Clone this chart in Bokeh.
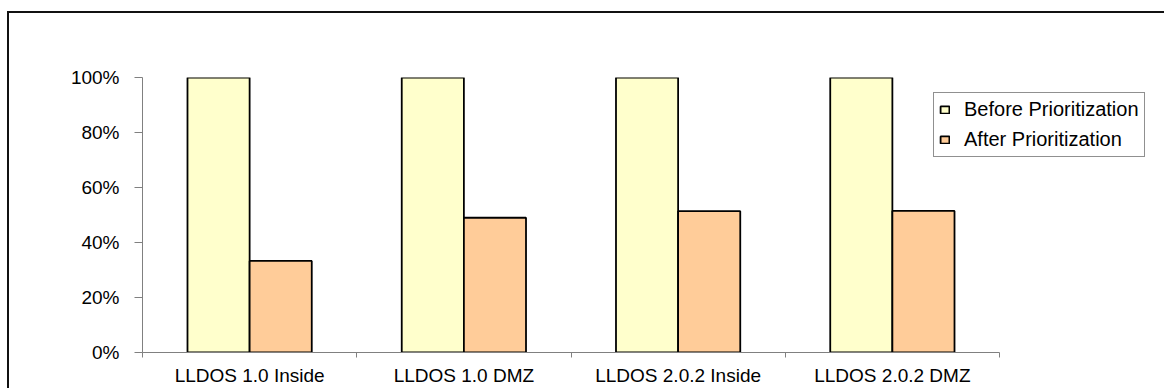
from bokeh.plotting import figure
from bokeh.models import (Range1d, FixedTicker, NumeralTickFormatter, Legend, LegendItem,
                          ColumnDataSource)
from bokeh.embed import file_html
from bokeh.resources import INLINE

categories = ["LLDOS 1.0 Inside", "LLDOS 1.0 DMZ", "LLDOS 2.0.2 Inside", "LLDOS 2.0.2 DMZ"]
before = [1.0, 1.0, 1.0, 1.0]
after = [0.333, 0.49, 0.514, 0.515]
y_ticks = [0, 0.2, 0.4, 0.6, 0.8, 1.0]
series_names = ["Before Prioritization", "After Prioritization"]
colors = ["#FFFFCC", "#FFCC99"]

FONT = "Liberation Sans"
n = len(categories)
centers = [i + 0.5 for i in range(n)]
bar_w = 0.29

src = ColumnDataSource(dict(
    xb=[c - bar_w / 2 for c in centers],
    xa=[c + bar_w / 2 for c in centers],
    before=before, after=after))

# frame: 133..1157 px horizontally; categories occupy the first 857 px
x_end = n * 1024 / 857

p = figure(width=1157, height=377, x_range=Range1d(0, x_end), y_range=Range1d(0, 1),
           output_backend="svg", toolbar_location=None,
           min_border_left=133, min_border_right=0, min_border_top=64, min_border_bottom=38)
p.margin = (11, 0, 0, 7)
p.styles = {"border-top": "2px solid #111111", "border-left": "2px solid #111111"}
p.outline_line_color = None
p.grid.visible = False
p.background_fill_color = "white"
p.border_fill_color = "white"

r1 = p.vbar(x="xb", top="before", width=bar_w, bottom=0, source=src,
            fill_color=colors[0], line_color="black", line_width=1.8)
r2 = p.vbar(x="xa", top="after", width=bar_w, bottom=0, source=src,
            fill_color=colors[1], line_color="black", line_width=1.8)

# y axis
p.yaxis.ticker = FixedTicker(ticks=y_ticks, minor_ticks=[])
p.yaxis.formatter = NumeralTickFormatter(format="0%")
p.yaxis.major_tick_out = 8
p.yaxis.major_tick_in = 0
p.yaxis.minor_tick_out = 0
p.yaxis.major_label_standoff = 15
p.yaxis.axis_line_color = "#808080"
p.yaxis.major_tick_line_color = "#808080"
p.yaxis.major_label_text_font = FONT
p.yaxis.major_label_text_font_size = "19px"
p.yaxis.major_label_text_color = "black"

# x axis
p.xaxis.bounds = (0, n)
p.xaxis.ticker = FixedTicker(ticks=centers, minor_ticks=[float(i) for i in range(n + 1)])
p.xaxis.major_label_overrides = {c: lab for c, lab in zip(centers, categories)}
p.xaxis.major_tick_out = 0
p.xaxis.major_tick_in = 0
p.xaxis.minor_tick_out = 5
p.xaxis.minor_tick_in = 0
p.xaxis.major_label_standoff = 7
p.xaxis.axis_line_color = "#808080"
p.xaxis.minor_tick_line_color = "#808080"
p.xaxis.major_label_text_font = FONT
p.xaxis.major_label_text_font_size = "19px"
p.xaxis.major_label_text_color = "black"

legend = Legend(items=[LegendItem(label=series_names[0], renderers=[r1]),
                       LegendItem(label=series_names[1], renderers=[r2])],
                location=(791, 195), margin=0, padding=5, spacing=7,
                label_height=23, glyph_width=11, glyph_height=9, label_standoff=14,
                label_text_font=FONT, label_text_font_size="20px",
                label_text_color="black",
                border_line_color="#222222", border_line_width=1,
                background_fill_alpha=1.0)
p.add_layout(legend)

open("out.html", "w").write(file_html(p, INLINE))
